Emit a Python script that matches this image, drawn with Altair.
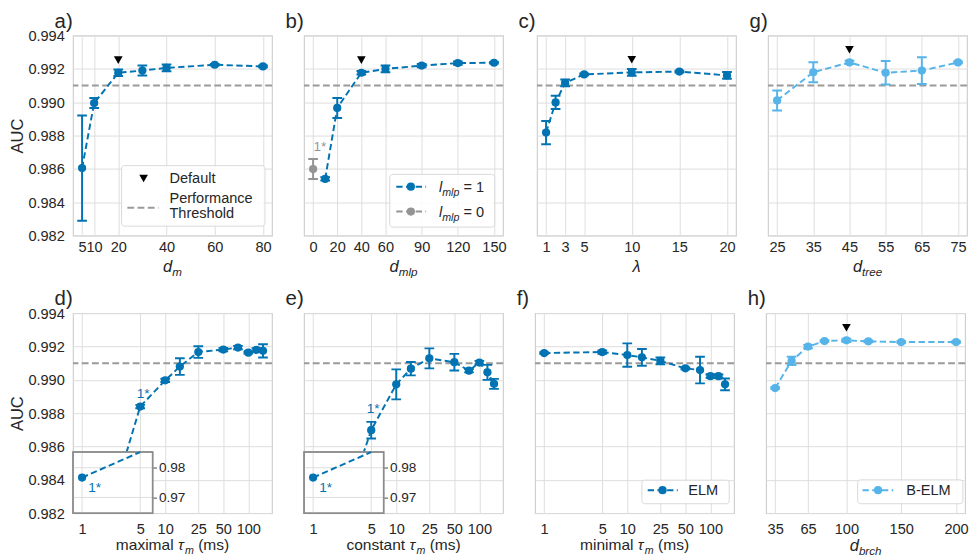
import math
import altair as alt
import pandas as pd

# ---------------- data ----------------
x_a = [5, 10, 20, 30, 40, 60, 80]
auc_a = [0.98605, 0.98995, 0.99177, 0.99190, 0.99206, 0.99225, 0.99215]
err_a = [0.00316, 0.0003, 0.0002, 0.0003, 0.0002, 0.00005, 0.00005]

x_b = [10, 20, 40, 60, 90, 120, 150]
auc_b = [0.98540, 0.98966, 0.99177, 0.99200, 0.99220, 0.99235, 0.99237]
err_b = [0.0001, 0.0006, 0.0001, 0.0002, 0.0001, 0.0001, 0.00005]
x_b0 = [0]
auc_b0 = [0.98599]
err_b0 = [0.0006]

x_c = [1, 2, 3, 5, 10, 15, 20]
auc_c = [0.98818, 0.98999, 0.99116, 0.99167, 0.99179, 0.99184, 0.99161]
err_c = [0.0007, 0.0004, 0.0002, 0.00005, 0.0002, 0.00005, 0.0002]

x_g = [25, 35, 45, 55, 65, 75]
auc_g = [0.99011, 0.99180, 0.99239, 0.99177, 0.99190, 0.99239]
err_g = [0.0006, 0.0006, 0.0001, 0.0007, 0.0008, 0.00005]

x_tau = [1, 5, 10, 15, 25, 50, 75, 100, 125, 150]
auc_d = [0.97670, 0.98840, 0.98997, 0.99080, 0.99167, 0.99182, 0.99194, 0.99163, 0.99180, 0.99174]
err_d = [0.0, 0.0001, 0.0001, 0.0005, 0.00035, 0.0001, 0.0001, 0.00005, 0.0001, 0.0004]
auc_e = [0.97670, 0.98698, 0.98973, 0.99067, 0.99129, 0.99106, 0.99055, 0.99104, 0.99045, 0.98976]
err_e = [0.0, 0.0005, 0.0009, 0.0004, 0.0006, 0.0005, 0.0001, 0.0001, 0.00045, 0.0003]
auc_f = [0.99161, 0.99167, 0.99149, 0.99135, 0.99114, 0.99069, 0.99059, 0.99022, 0.99022, 0.98973]
err_f = [0.00005, 0.0001, 0.0007, 0.0005, 0.0002, 0.00005, 0.0008, 0.0001, 0.0001, 0.00035]

x_h = [35, 50, 65, 80, 100, 120, 150, 200]
auc_h = [0.98951, 0.99114, 0.99200, 0.99233, 0.99237, 0.99231, 0.99227, 0.99227]
err_h = [0.00005, 0.00025, 0.0001, 0.00005, 0.0001, 0.00005, 0.00005, 0.00005]

ticks_a = [5, 10, 20, 40, 60, 80]
ticks_b = [0, 20, 40, 60, 90, 120, 150]
ticks_c = [1, 3, 5, 10, 15, 20]
ticks_g = [25, 35, 45, 55, 65, 75]
ticks_tau = [1, 5, 10, 25, 50, 100]
ticks_inset_x = [1, 5]
ticks_h = [35, 65, 100, 150, 200]
y_ticks = [0.982, 0.984, 0.986, 0.988, 0.990, 0.992, 0.994]
y_domain = [0.982, 0.994]
inset_ticks = [0.97, 0.98]
inset_domain = [0.9647, 0.9853]
threshold = [0.991]
defaults = {"a": 20, "b": 40, "c": 10, "g": 45, "h": 100}

# ---------------- style ----------------
FONT = "Liberation Sans"
BLUE = "#0173b2"
LIGHT = "#56b4e9"
GRAY = "#949494"
TH = "#9a9a9a"
TXT = "#262626"
GRID = "#dddddd"
W, H = 205, 206
IW, ITOP, IBOT = 82, 143, 206
DASH = [6.5, 3.5]

ONE = pd.DataFrame({"k": [0]})

CW = {' ': 0.278, '(': 0.333, ')': 0.333, 'a': 0.556, 'b': 0.556, 'c': 0.5, 'd': 0.556,
      'e': 0.556, 'h': 0.556, 'i': 0.222, 'l': 0.222, 'm': 0.833, 'n': 0.556, 'o': 0.556,
      'p': 0.556, 'r': 0.333, 's': 0.5, 't': 0.278, 'x': 0.5, '=': 0.584, '1': 0.556,
      '0': 0.556, 'τ': 0.45, 'λ': 0.5, '-': 0.333, 'E': 0.667, 'L': 0.556, 'M': 0.833,
      'B': 0.667}


def tw(t, fs):
    return sum(CW.get(ch, 0.55) for ch in t) * fs


def lin_dom(xs):
    lo, hi = min(xs), max(xs)
    m = 0.05 * (hi - lo)
    return [lo - m, hi + m]


def log_dom(xs):
    lo, hi = math.log10(min(xs)), math.log10(max(xs))
    m = 0.05 * (hi - lo)
    return [10 ** (lo - m), 10 ** (hi + m)]


def sdf(xs, ys, es):
    return pd.DataFrame({"x": xs, "auc": ys,
                         "lo": [y - e for y, e in zip(ys, es)],
                         "hi": [y + e for y, e in zip(ys, es)]})


def text_at(t, x, y, fs=15, color=TXT, italic=False, align="left", baseline="alphabetic"):
    return alt.Chart(ONE).mark_text(
        text=t, font=FONT, fontSize=fs, color=color, align=align, baseline=baseline,
        fontStyle="italic" if italic else "normal").encode(x=alt.value(x), y=alt.value(y))


def pieces_at(pieces, x, y):
    out = []
    for t, fs, it, dy in pieces:
        if t.strip():
            out.append(text_at(t, x, y + dy, fs=fs, italic=it))
        x += tw(t, fs)
    return out


def title_layers(pieces, y):
    total = sum(tw(t, fs) for t, fs, it, dy in pieces)
    return pieces_at(pieces, W / 2 - total / 2, y)


def series(df, X, ysc, yax, color):
    base = alt.Chart(df)
    Y = lambda f: alt.Y(f"{f}:Q", scale=ysc, axis=yax)
    line = base.mark_line(color=color, strokeWidth=2, strokeDash=DASH, clip=True).encode(x=X, y=Y("auc"))
    bars = base.mark_rule(color=color, strokeWidth=2, clip=True).encode(x=X, y=Y("lo"), y2="hi:Q")
    c1 = base.mark_tick(color=color, orient="horizontal", size=10, thickness=2, clip=True, opacity=1).encode(x=X, y=Y("lo"))
    c2 = base.mark_tick(color=color, orient="horizontal", size=10, thickness=2, clip=True, opacity=1).encode(x=X, y=Y("hi"))
    pts = base.mark_circle(color=color, size=72, opacity=1, clip=True).encode(x=X, y=Y("auc"))
    return [line, bars, c1, c2], [pts]


def inset_layer(df, X, color, dx, dy):
    isc = alt.Scale(domain=inset_domain, range=[IBOT, ITOP], nice=False, zero=False, clamp=True)
    iax = alt.Axis(values=inset_ticks, orient="right", offset=-(W - IW), format=".2f", title=None,
                   grid=False, ticks=True, tickSize=4, tickColor="#444444", tickWidth=1, domain=False,
                   labelPadding=2, labelFontSize=14, labelColor=TXT, labelFont=FONT)
    Y = alt.Y("auc:Q", scale=isc, axis=iax)
    edges = pd.DataFrame({"auc": [inset_domain[0]], "top": [inset_domain[1]]})
    box = alt.Chart(edges).mark_rect(fill="white", stroke="#8c8c8c", strokeWidth=1.5).encode(
        x=alt.value(0), x2=alt.value(IW), y=Y, y2="top:Q")
    vgrid = alt.Chart(pd.DataFrame({"x": ticks_inset_x, "auc": [inset_domain[0]] * 2,
                                    "top": [inset_domain[1]] * 2})).mark_rule(
        color=GRID, strokeWidth=1).encode(x=X, y=Y, y2="top:Q")
    hgrid = alt.Chart(pd.DataFrame({"auc": inset_ticks})).mark_rule(color=GRID, strokeWidth=1).encode(
        y=Y, x=alt.value(0), x2=alt.value(IW))
    frame = alt.Chart(edges).mark_rect(fill="white", fillOpacity=0, stroke="#8c8c8c", strokeWidth=1.5).encode(
        x=alt.value(0), x2=alt.value(IW), y=Y, y2="top:Q")
    line = alt.Chart(df.iloc[:2]).mark_line(color=color, strokeWidth=2, strokeDash=DASH).encode(x=X, y=Y)
    pts = alt.Chart(df.iloc[:1]).mark_circle(color=color, size=72, opacity=1).encode(x=X, y=Y)
    note = alt.Chart(df.iloc[:1]).mark_text(text="1*", font=FONT, fontSize=14, color=color, dx=dx, dy=dy,
                                            align="center", baseline="alphabetic").encode(x=X, y=Y)
    return alt.layer(box, vgrid, hgrid, frame, line, pts, note)


def panel(letter, groups, xsc, xticks, left, title_pieces, title_y, label_pad,
          extra=(), default_df=None, notes=(), inset=None):
    xax = alt.Axis(values=xticks, format="d", title=None, grid=True, ticks=False, domain=False,
                   labelOverlap=False, labelFlush=False, labelPadding=label_pad, labelFontSize=15,
                   labelColor=TXT, labelFont=FONT, gridColor=GRID)
    yax = alt.Axis(values=y_ticks, format=".3f", title="AUC" if left else None, labels=left,
                   grid=True, ticks=False, domain=False, labelPadding=9, labelFontSize=15,
                   labelColor=TXT, labelFont=FONT, titleFont=FONT, titleFontSize=17,
                   titleFontWeight="normal", titleColor=TXT, titlePadding=1, gridColor=GRID)
    ysc = alt.Scale(domain=y_domain, nice=False, zero=False)
    X = alt.X("x:Q", scale=xsc, axis=xax)
    layers = [alt.Chart(pd.DataFrame({"t": threshold})).mark_rule(
        color=TH, strokeWidth=2, strokeDash=[7, 3.5]).encode(y=alt.Y("t:Q", scale=ysc, axis=yax))]
    back, front = [], []
    for df, color in groups:
        b, f = series(df, X, ysc, yax, color)
        back += b
        front += f
    layers += back + front
    if default_df is not None:
        layers.append(alt.Chart(default_df).mark_point(
            shape="triangle-down", filled=True, size=80, color="black", opacity=1, yOffset=-13
        ).encode(x=X, y=alt.Y("auc:Q", scale=ysc, axis=yax)))
    for ndf, color, dx, dy in notes:
        layers.append(alt.Chart(ndf).mark_text(
            text="1*", font=FONT, fontSize=14, color=color, dx=dx, dy=dy, align="center",
            baseline="alphabetic").encode(x=X, y=alt.Y("auc:Q", scale=ysc, axis=yax)))
    layers.append(text_at(letter + ")", -19, -8, fs=21))
    layers += title_layers(title_pieces, H + title_y)
    layers += list(extra)
    main = alt.layer(*layers)
    if inset is None:
        return main.properties(width=W, height=H)
    ins = inset_layer(inset[0], X, inset[1], inset[2], inset[3])
    return alt.layer(main, ins).resolve_scale(y="independent").properties(width=W, height=H)


def legend_box(x1, y1, x2, y2):
    return alt.Chart(ONE).mark_rect(fill="white", fillOpacity=0.85, stroke="#d8d8d8", strokeWidth=1,
                                    cornerRadius=3).encode(
        x=alt.value(x1), x2=alt.value(x2), y=alt.value(y1), y2=alt.value(y2))


def legend_line(x1, x2, y, color, dot_x=None):
    out = [alt.Chart(ONE).mark_rule(color=color, strokeWidth=2, strokeDash=DASH).encode(
        x=alt.value(x1), x2=alt.value(x2), y=alt.value(y))]
    if dot_x is not None:
        out.append(alt.Chart(ONE).mark_circle(color=color, size=72, opacity=1).encode(
            x=alt.value(dot_x), y=alt.value(y)))
    return out


# ---------------- panels ----------------
df_a, df_b, df_b0 = sdf(x_a, auc_a, err_a), sdf(x_b, auc_b, err_b), sdf(x_b0, auc_b0, err_b0)
df_c, df_g = sdf(x_c, auc_c, err_c), sdf(x_g, auc_g, err_g)
df_d, df_e, df_f = sdf(x_tau, auc_d, err_d), sdf(x_tau, auc_e, err_e), sdf(x_tau, auc_f, err_f)
df_h = sdf(x_h, auc_h, err_h)


def dflt(df, key):
    return df[df["x"] == defaults[key]]


def dsub(sub):
    return [("d", 17, True, 0), (sub, 12, True, 4)]


leg_a = [legend_box(50, 134, 197.7, 196.3),
         alt.Chart(ONE).mark_point(shape="triangle-down", filled=True, size=80, color="black", opacity=1).encode(
             x=alt.value(72.7), y=alt.value(147.3)),
         text_at("Default", 99.3, 147.3, baseline="middle"),
         alt.Chart(ONE).mark_rule(color=TH, strokeWidth=2, strokeDash=[7, 3.5]).encode(
             x=alt.value(56), x2=alt.value(88), y=alt.value(177.3)),
         text_at("Performance", 99.3, 167.5, baseline="middle"),
         text_at("Threshold", 99.3, 182.5, baseline="middle")]

leg_b = [legend_box(88.3, 143, 196.3, 197.3)]
leg_b += legend_line(95, 125.7, 155.7, BLUE, 110)
leg_b += pieces_at([("l", 15, True, 0), ("mlp", 11, True, 4), (" ", 15, False, 0), ("=", 15, False, 0),
                    (" ", 15, False, 0), ("1", 15, False, 0)], 139, 161)
leg_b += legend_line(95, 125.7, 181.3, GRAY, 110)
leg_b += pieces_at([("l", 15, True, 0), ("mlp", 11, True, 4), (" ", 15, False, 0), ("=", 15, False, 0),
                    (" ", 15, False, 0), ("0", 15, False, 0)], 139, 186.6)

leg_f = [legend_box(110, 172, 200, 196.3)] + legend_line(116, 147, 182.3, BLUE, 131.3) + \
        [text_at("ELM", 157.7, 182.3, baseline="middle")]
leg_h = [legend_box(94.3, 171.7, 202.7, 196.3)] + legend_line(99.3, 131, 182.3, LIGHT, 115.3) + \
        [text_at("B-ELM", 144.3, 182.3, baseline="middle")]

lin = lambda xs: alt.Scale(domain=lin_dom(xs), nice=False, zero=False)
logs = alt.Scale(type="log", domain=log_dom(x_tau), nice=False)

pa = panel("a", [(df_a, BLUE)], lin(x_a), ticks_a, True, dsub("m"), 38, 4,
           extra=leg_a, default_df=dflt(df_a, "a"))
pb = panel("b", [(df_b0, GRAY), (df_b, BLUE)], lin(x_b0 + x_b), ticks_b, False, dsub("mlp"), 38, 4,
           extra=leg_b, default_df=dflt(df_b, "b"), notes=[(df_b0, GRAY, 7, -19)])
pc = panel("c", [(df_c, BLUE)], lin(x_c), ticks_c, False, [("λ", 17, True, 0)], 38, 4,
           default_df=dflt(df_c, "c"))
pg = panel("g", [(df_g, LIGHT)], lin(x_g), ticks_g, False, dsub("tree"), 38, 4,
           default_df=dflt(df_g, "g"))


def tau_title(word):
    return [(word, 16, False, 0), (" ", 16, False, 0), ("τ", 16, True, 0), ("m", 11, True, 4),
            (" ", 16, False, 0), ("(ms)", 16, False, 0)]


pd_ = panel("d", [(df_d, BLUE)], logs, ticks_tau, True, tau_title("maximal"), 38, 9,
            notes=[(df_d.iloc[1:2], BLUE, 3, -9)], inset=(df_d, BLUE, 13, 15))
pe = panel("e", [(df_e, BLUE)], logs, ticks_tau, False, tau_title("constant"), 38, 9,
           notes=[(df_e.iloc[1:2], BLUE, 2, -18)], inset=(df_e, BLUE, 13, 15))
pf = panel("f", [(df_f, BLUE)], logs, ticks_tau, False, tau_title("minimal"), 38, 9, extra=leg_f)
ph = panel("h", [(df_h, LIGHT)], lin(x_h), ticks_h, False, dsub("brch"), 39, 9,
           extra=leg_h, default_df=dflt(df_h, "h"))

row1 = alt.hconcat(pa, pb, pc, pg, spacing=11)
row2 = alt.hconcat(pd_, pe, pf, ph, spacing=11)

chart = alt.vconcat(row1, row2, spacing=9).properties(
    padding={"left": 0, "top": -6, "right": 0, "bottom": 0}
).configure_view(stroke="#cfcfcf", strokeWidth=1.2).configure_axis(
    labelFont=FONT, titleFont=FONT)

chart.save("out.html", embed_options={"renderer": "svg", "actions": False})
